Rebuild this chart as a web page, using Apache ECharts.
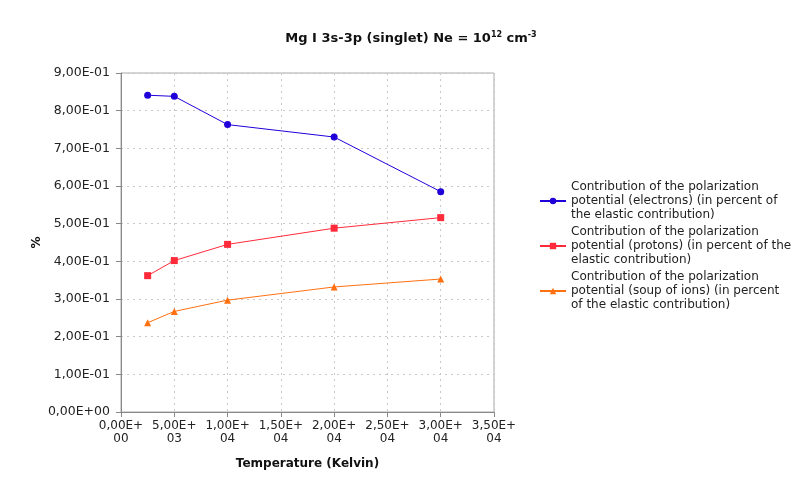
<!DOCTYPE html>
<html><head><meta charset="utf-8">
<script src="https://cdn.jsdelivr.net/npm/echarts@6/dist/echarts.min.js"></script>
<style>html,body{margin:0;padding:0;background:#fff}#c{width:794px;height:479px}</style>
</head><body><div id="c"></div>
<script>
const temperatures = [2500, 5000, 10000, 20000, 30000];
const electrons = [0.841, 0.838, 0.763, 0.730, 0.585];
const protons = [0.362, 0.402, 0.445, 0.488, 0.516];
const ions = [0.237, 0.267, 0.297, 0.332, 0.353];
const seriesNames = [
  'Contribution of the polarization\npotential (electrons) (in percent of\nthe elastic contribution)',
  'Contribution of the polarization\npotential (protons) (in percent of the\nelastic contribution)',
  'Contribution of the polarization\npotential (soup of ions) (in percent\nof the elastic contribution)'
];
const seriesColors = ['#1f00d8', '#ff2a3a', '#ff7010'];
const seriesSymbols = ['circle', 'rect', 'triangle'];

function sci(v, twoLine) {
  let e = 0, m = 0;
  if (v !== 0) { e = Math.floor(Math.log10(Math.abs(v)) + 1e-9); m = v / Math.pow(10, e); }
  const ms = m.toFixed(2).replace('.', ',');
  const es = (e < 0 ? '-' : '+') + String(Math.abs(e)).padStart(2, '0');
  return twoLine ? ms + 'E+\n' + String(Math.abs(e)).padStart(2, '0') : ms + 'E' + es;
}
const font = 'DejaVu Sans';
const chart = echarts.init(document.getElementById('c'));
const dataSets = [electrons, protons, ions];
chart.setOption({
  animation: false,
  textStyle: { fontFamily: font },
  title: {
    text: 'Mg I 3s-3p (singlet) Ne = 10{s|12} cm{s|-3}',
    left: 406, top: 26, textAlign: 'center',
    textStyle: { fontFamily: font, fontSize: 13, fontWeight: 'bold', color: '#111',
      rich: { s: { fontSize: 8, fontWeight: 'bold', verticalAlign: 'top', padding: [0,0,8,0], color: '#111', fontFamily: font } } }
  },
  grid: { left: 121, right: 300, top: 73, bottom: 67, show: true, borderColor: '#aaa', borderWidth: 1 },
  legend: {
    orient: 'vertical', left: 539, top: 180, padding: 0, itemWidth: 26, itemHeight: 8, itemGap: 3,
    textStyle: { fontFamily: font, fontSize: 12, color: '#222', lineHeight: 14 },
    data: seriesNames
  },
  xAxis: {
    type: 'value', min: 0, max: 35000, interval: 5000,
    name: 'Temperature (Kelvin)', nameLocation: 'middle', nameGap: 46,
    nameTextStyle: { fontFamily: font, fontSize: 12, fontWeight: 'bold', color: '#111' },
    axisLine: { lineStyle: { color: '#888' } },
    axisTick: { show: true, lineStyle: { color: '#888' } },
    axisLabel: { formatter: v => sci(v, true), fontFamily: font, fontSize: 12, color: '#222', lineHeight: 13, margin: 7 },
    splitLine: { show: true, lineStyle: { type: [2, 4], color: '#c8c8c8' } }
  },
  yAxis: {
    type: 'value', min: 0, max: 0.9, interval: 0.1,
    name: '%', nameLocation: 'middle', nameGap: 78, nameRotate: 90,
    nameTextStyle: { fontFamily: font, fontSize: 12, fontWeight: 'bold', color: '#111' },
    axisLine: { show: true, lineStyle: { color: '#888' } },
    axisTick: { show: true, lineStyle: { color: '#888' } },
    axisLabel: { formatter: v => sci(v, false), fontFamily: font, fontSize: 12.5, color: '#222', margin: 11 },
    splitLine: { show: true, lineStyle: { type: [2, 4], color: '#c8c8c8' } }
  },
  series: dataSets.map((d, i) => ({
    name: seriesNames[i], type: 'line',
    data: temperatures.map((t, j) => [t, d[j]]),
    symbol: seriesSymbols[i], symbolSize: 7,
    itemStyle: { color: seriesColors[i] },
    lineStyle: { color: seriesColors[i], width: 1 }
  }))
});
</script></body></html>
